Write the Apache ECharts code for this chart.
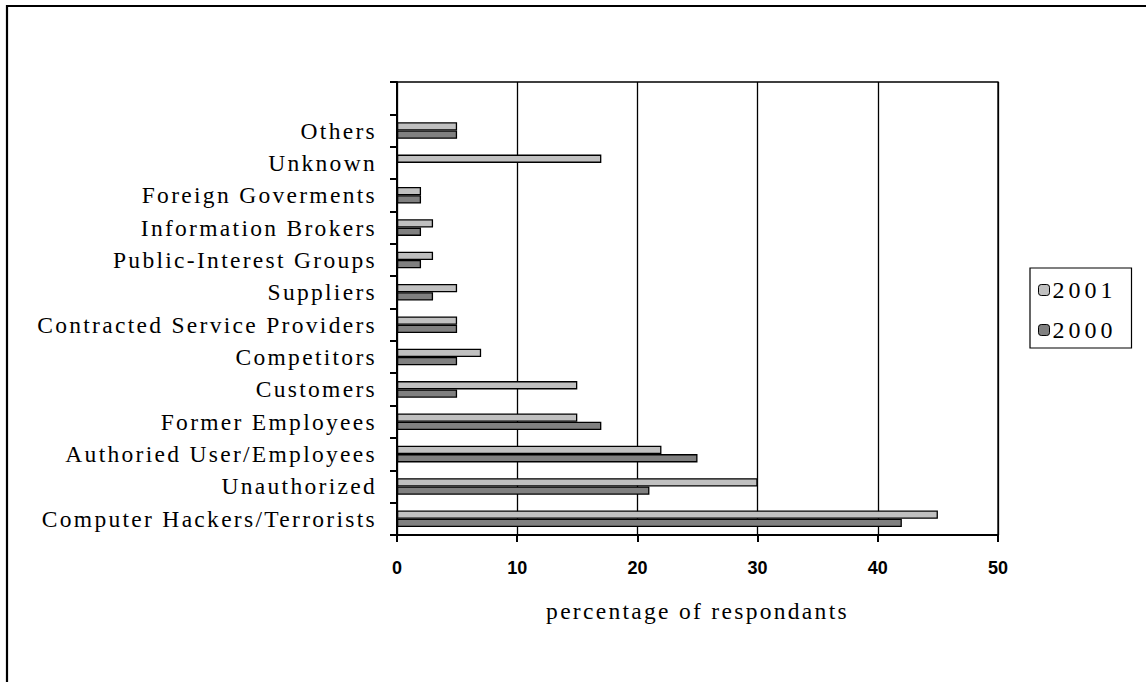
<!DOCTYPE html>
<html>
<head>
<meta charset="utf-8">
<script src="https://cdn.jsdelivr.net/npm/echarts@6/dist/echarts.min.js"></script>
<style>
html,body{margin:0;padding:0;background:#fff;}
#chart{width:1146px;height:682px;}
</style>
</head>
<body>
<div id="chart"></div>
<script>
// Categories listed bottom -> top (top slot is empty in the original)
const categories = [
  'Computer Hackers/Terrorists',
  'Unauthorized',
  'Authoried User/Employees',
  'Former Employees',
  'Customers',
  'Competitors',
  'Contracted Service Providers',
  'Suppliers',
  'Public-Interest Groups',
  'Information Brokers',
  'Foreign Goverments',
  'Unknown',
  'Others',
  ''
];
const values2001 = [45, 30, 22, 15, 15, 7, 5, 5, 3, 3, 2, 17, 5];
const values2000 = [42, 21, 25, 17, 5, 5, 5, 3, 2, 2, 2, null, 5];
const seriesNames = ['2001', '2000'];
const xTicks = { min: 0, max: 50, interval: 10 };
const xAxisTitle = 'percentage of respondants';

const SERIF = 'Liberation Serif, Times New Roman, serif';
const SANS = 'Liberation Sans, Arial, sans-serif';

const chart = echarts.init(document.getElementById('chart'), null, { renderer: 'svg' });

const option = {
  animation: false,
  backgroundColor: '#ffffff',
  graphic: [{
    type: 'rect',
    shape: { x: 7, y: 6, width: 1300, height: 1000 },
    style: { fill: 'none', stroke: '#000', lineWidth: 2.2 },
    silent: true
  }],
  grid: {
    left: 397, right: 148, top: 82, bottom: 147,
    show: true, borderColor: '#000', borderWidth: 1.3, backgroundColor: 'transparent'
  },
  legend: {
    orient: 'vertical',
    left: 1030, top: 268,
    padding: [10, 31, 6, 8],
    borderColor: '#000', borderWidth: 1.2,
    itemWidth: 11, itemHeight: 11, itemGap: 16,
    selectedMode: false,
    data: seriesNames,
    itemStyle: { borderColor: '#000', borderWidth: 1 },
    textStyle: { fontFamily: SERIF, fontSize: 24, color: '#000', lineHeight: 24, padding: [0, 0, 0, -2] }
  },
  xAxis: {
    type: 'value',
    min: xTicks.min, max: xTicks.max, interval: xTicks.interval,
    name: xAxisTitle,
    nameLocation: 'middle',
    nameGap: 64,
    nameTextStyle: { fontFamily: SERIF, fontSize: 23.5, color: '#000' },
    axisLine: { show: true, lineStyle: { color: '#000', width: 2 } },
    axisTick: { show: true, length: 7, lineStyle: { color: '#000', width: 2 } },
    splitLine: { show: true, lineStyle: { color: '#000', width: 1.3 } },
    axisLabel: { fontFamily: SANS, fontWeight: 'bold', fontSize: 18, color: '#000', margin: 24 }
  },
  yAxis: {
    type: 'category',
    data: categories,
    axisLine: { show: true, lineStyle: { color: '#000', width: 2 } },
    axisTick: { show: true, length: 7, lineStyle: { color: '#000', width: 2 } },
    splitLine: { show: false },
    axisLabel: { fontFamily: SERIF, fontSize: 23.5, color: '#000', margin: 20, interval: 0 }
  },
  series: [
    {
      name: seriesNames[0], type: 'bar', data: values2001,
      barWidth: 8.3, barGap: '0%',
      itemStyle: { color: '#c0c0c0', borderColor: '#000', borderWidth: 1.3 }
    },
    {
      name: seriesNames[1], type: 'bar', data: values2000,
      barWidth: 8.3, barGap: '0%',
      itemStyle: { color: '#808080', borderColor: '#000', borderWidth: 1.3 }
    }
  ]
};
chart.setOption(option);

function spaceSerifText() {
  document.querySelectorAll('#chart svg text').forEach(function (t) {
    const ff = (getComputedStyle(t).fontFamily || '') + ' ' + (t.getAttribute('style') || '');
    if (ff.indexOf('Serif') >= 0 || ff.indexOf('Times') >= 0) {
      const isLegend = /^20\d\d$/.test((t.textContent || '').trim());
      t.style.letterSpacing = isLegend ? '4px' : '2.3px';
    }
  });
}
spaceSerifText();
chart.on('finished', spaceSerifText);
</script>
</body>
</html>
